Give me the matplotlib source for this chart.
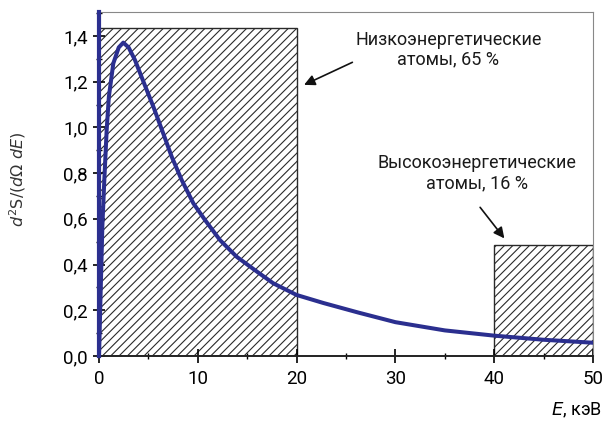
import matplotlib
matplotlib.use("Agg")
from matplotlib import pyplot as plt
from matplotlib.ticker import MultipleLocator, FuncFormatter
import matplotlib.patches as mpatches

plt.rcParams['font.family'] = ['Roboto', 'DejaVu Sans']
plt.rcParams['mathtext.fontset'] = 'dejavusans'
plt.rcParams['hatch.linewidth'] = 0.8

# spectrum (E in keV)
energy = [0.0, 0.34, 0.54, 0.78, 1.0, 1.45, 2.0, 2.46, 3.0, 3.64, 4.5, 5.5, 6.5,
          7.36, 8.37, 9.55, 10.73, 12.25, 13.94, 15.96, 17.64, 20.0, 22.7, 26.25,
          30.0, 35.0, 40.0, 45.0, 50.0]
spectrum = [0.0, 0.566, 0.77, 0.99, 1.134, 1.28, 1.35, 1.371, 1.35, 1.295, 1.2, 1.091, 0.974,
            0.872, 0.77, 0.668, 0.595, 0.507, 0.434, 0.37, 0.318, 0.267, 0.232, 0.19,
            0.148, 0.112, 0.089, 0.071, 0.058]

# hatched bins
bin_left = [0, 40]
bin_right = [20, 50]
bin_height = [1.435, 0.487]

blue = "#2b2f8f"

fig = plt.figure(figsize=(6.05, 4.21), dpi=100)
ax = fig.add_axes([0.1636, 0.1544, 0.9802 - 0.1636, 0.9715 - 0.1544])

for l, r, h in zip(bin_left, bin_right, bin_height):
    ax.add_patch(mpatches.Rectangle((l, 0), r - l, h, facecolor="white",
                                    edgecolor="#2a2a2a", hatch="////", lw=1.0, zorder=1))

ax.plot(energy, spectrum, color=blue, lw=2.9, zorder=3, solid_joinstyle="round")

ax.set_xlim(0, 50)
ax.set_ylim(0, 1.505)

ax.xaxis.set_major_locator(MultipleLocator(10))
ax.xaxis.set_minor_locator(MultipleLocator(5))
ax.yaxis.set_major_locator(MultipleLocator(0.2))
ax.yaxis.set_minor_locator(MultipleLocator(0.1))
ax.yaxis.set_major_formatter(FuncFormatter(lambda v, p: f"{v:.1f}".replace(".", ",")))

ax.tick_params(axis="x", which="major", direction="inout", length=9.5, width=1.2,
               labelsize=13.5, pad=5)
ax.tick_params(axis="x", which="minor", direction="inout", length=4.5, width=1.0)
ax.tick_params(axis="y", which="major", direction="inout", length=8, width=1.2,
               labelsize=13.5, pad=4)
ax.tick_params(axis="y", which="minor", direction="inout", length=5, width=1.0)

ax.spines["left"].set_color(blue)
ax.spines["left"].set_linewidth(3)
ax.spines["left"].set_zorder(4)
ax.spines["bottom"].set_color("#222222")
ax.spines["bottom"].set_linewidth(1.4)
ax.spines["top"].set_color("#888888")
ax.spines["right"].set_color("#888888")

ax.text(35.35, 1.34, "Низкоэнергетические\nатомы, 65 %", ha="center", va="center",
        fontsize=13, linespacing=1.15, color="#1a1a1a")
ax.annotate("", xy=(20.5, 1.181), xytext=(25.9, 1.29),
            arrowprops=dict(arrowstyle="-|>", color="#111111", lw=1.2, mutation_scale=16))

ax.text(38.3, 0.8, "Высокоэнергетические\nатомы, 16 %", ha="center", va="center",
        fontsize=13, linespacing=1.15, color="#1a1a1a")
ax.annotate("", xy=(41.2, 0.505), xytext=(38.4, 0.66),
            arrowprops=dict(arrowstyle="-|>", color="#111111", lw=1.2, mutation_scale=16))

fig.text(0.03, 0.575, r"$d^2\mathrm{S}/(d\Omega\ dE)$", rotation=90, ha="center", va="center",
         fontsize=11.5, color="#333333")
fig.text(0.995, 0.025, r"$E$, кэВ", ha="right", va="center", fontsize=13)

plt.savefig("out.png", dpi=100)
